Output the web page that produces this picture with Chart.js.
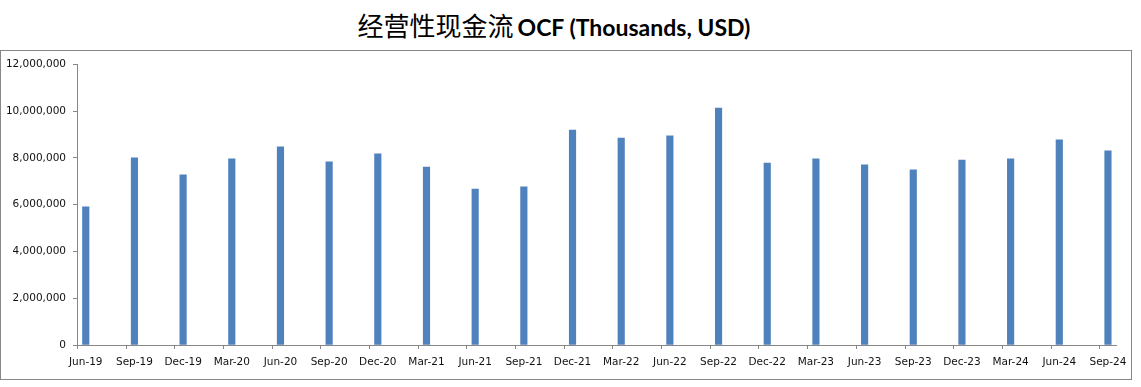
<!DOCTYPE html>
<html>
<head>
<meta charset="utf-8">
<script src="https://cdn.jsdelivr.net/npm/chart.js@4.4.1/dist/chart.umd.min.js"></script>
<style>
  html, body { margin:0; padding:0; background:#fff; }
  body { width:1141px; height:387px; position:relative; overflow:hidden; }
  #title { position:absolute; left:0; top:10px; width:1108px; text-align:center; white-space:nowrap; line-height:30px; color:#000; }
  #title .cn { font-family:"Noto Sans CJK SC", sans-serif; font-size:26px; font-weight:400; }
  #title .en { font-family:Lato, sans-serif; font-size:23px; font-weight:700; }
  #box { position:absolute; left:0; top:50px; width:1130px; height:328px; border:1px solid #878787; }
  #box canvas { display:block; }
</style>
</head>
<body>
<div id="title"><span class="cn">经营性现金流</span> <span class="en">OCF (Thousands, USD)</span></div>
<div id="box"><canvas id="ocfChart" width="1130" height="328"></canvas></div>
<script>
// ── Data ───────────────────────────────────────
const QUARTERS = ['Jun-19','Sep-19','Dec-19','Mar-20','Jun-20','Sep-20','Dec-20','Mar-21','Jun-21','Sep-21','Dec-21',
                  'Mar-22','Jun-22','Sep-22','Dec-22','Mar-23','Jun-23','Sep-23','Dec-23','Mar-24','Jun-24','Sep-24'];
const OCF = [5910000, 8000000, 7270000, 7960000, 8470000, 7830000, 8170000, 7610000, 6670000, 6760000, 9190000,
             8850000, 8940000, 10130000, 7780000, 7960000, 7700000, 7490000, 7910000, 7960000, 8770000, 8300000];
const Y_TICKS = [0, 2000000, 4000000, 6000000, 8000000, 10000000, 12000000];

const AXIS_GRAY = '#878787';
const TICK_SHIFT = 0.18;   // tick marks sit a little left of each bar (Excel date axis look)

// tick marks on the category axis, drawn between bars
const xTickMarks = {
  id: 'xTickMarks',
  afterDraw(chart) {
    const x = chart.scales.x, ctx = chart.ctx;
    ctx.save();
    ctx.strokeStyle = AXIS_GRAY;
    ctx.lineWidth = 1;
    ctx.beginPath();
    QUARTERS.forEach((q, i) => {
      const px = Math.round(x.getPixelForValue(i - TICK_SHIFT)) + 0.5;
      ctx.moveTo(px, x.top);
      ctx.lineTo(px, x.top + 4);
    });
    ctx.stroke();
    ctx.restore();
  }
};

new Chart(document.getElementById('ocfChart').getContext('2d'), {
  type: 'bar',
  data: {
    datasets: [{
      label: 'OCF',
      data: OCF.map((v, i) => ({ x: i, y: v })),
      backgroundColor: '#4F81BD',
      borderWidth: 0,
      barThickness: 6.5,
    }]
  },
  options: {
    responsive: false,
    animation: false,
    layout: { padding: { top: 13, right: 15, left: 0, bottom: 0 } },
    plugins: { legend: { display: false }, tooltip: { enabled: false }, title: { display: false } },
    scales: {
      x: {
        type: 'linear',
        offset: false,
        min: -TICK_SHIFT,
        max: QUARTERS.length - 1 + 0.165,
        afterBuildTicks: axis => { axis.ticks = QUARTERS.map((q, i) => ({ value: i })); },
        afterFit: axis => { axis.height = 34; axis.paddingLeft = 0; axis.paddingRight = 0; },
        grid: { display: true, drawOnChartArea: false, drawTicks: false },
        border: { display: true, color: AXIS_GRAY, width: 1 },
        ticks: {
          autoSkip: false, maxRotation: 0, padding: 11,
          color: '#111', font: { family: 'DejaVu Sans', size: 10.5 },
          callback: v => QUARTERS[v] ?? ''
        }
      },
      y: {
        min: 0, max: 12000000,
        afterBuildTicks: axis => { axis.ticks = Y_TICKS.map(v => ({ value: v })); },
        afterFit: axis => { axis.width = 76; },
        grid: { drawOnChartArea: false, drawTicks: true, tickLength: 4, color: AXIS_GRAY },
        border: { display: true, color: AXIS_GRAY, width: 1 },
        ticks: {
          padding: 7, color: '#111', font: { family: 'DejaVu Sans', size: 10.5 },
          callback: v => v.toLocaleString('en-US')
        }
      }
    }
  },
  plugins: [xTickMarks]
});
</script>
</body>
</html>
